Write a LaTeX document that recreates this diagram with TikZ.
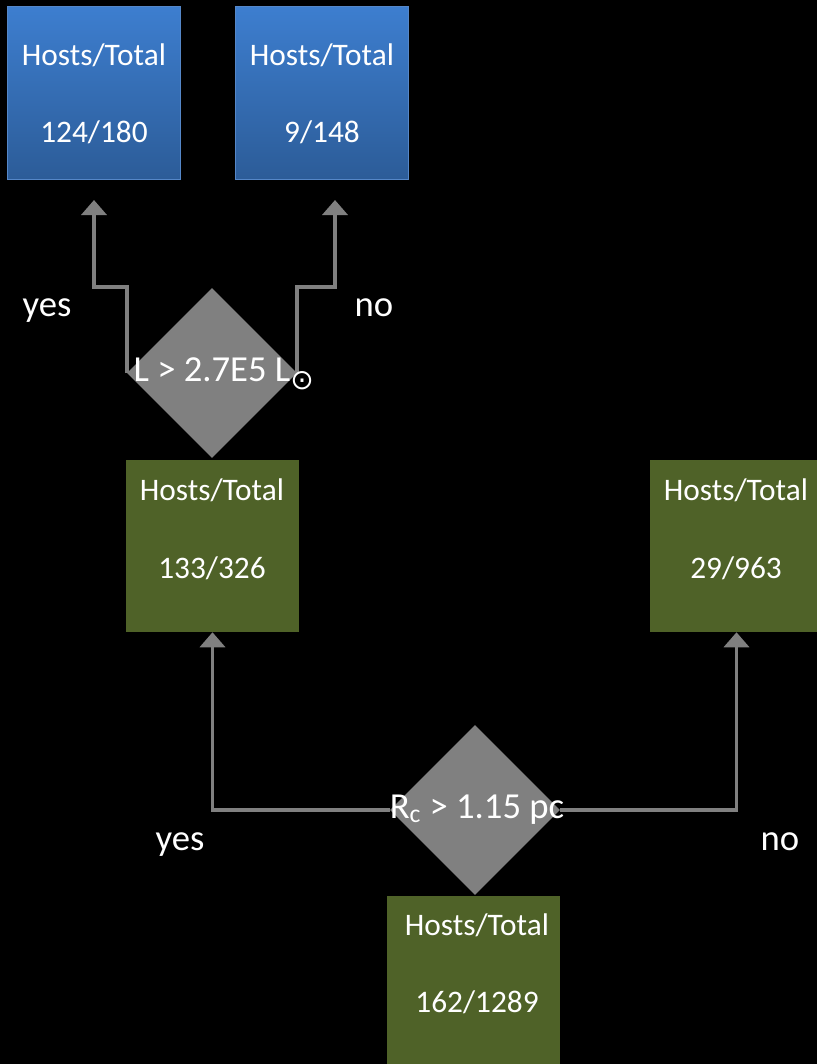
\documentclass[tikz,border=0pt]{standalone}
\usepackage{fontspec}
\setmainfont{Carlito}
\newfontfamily\symfnt{DejaVu Sans}
\usetikzlibrary{shapes.geometric,arrows.meta}
\definecolor{bluetop}{RGB}{61,126,207}
\definecolor{bluebot}{RGB}{44,92,152}
\definecolor{blueedge}{RGB}{85,135,200}
\definecolor{boxgreen}{RGB}{79,98,40}
\definecolor{dgray}{RGB}{128,128,128}
\definecolor{agray}{RGB}{128,128,128}
\begin{document}
\begin{tikzpicture}[x=0.75pt,y=-0.75pt,
  bluebox/.style={rectangle, inner sep=0pt, minimum width=129.5pt, minimum height=129.5pt,
    top color=bluetop, bottom color=bluebot, draw=blueedge, line width=1pt},
  greenbox/.style={rectangle, inner sep=0pt, minimum width=129.75pt, minimum height=129pt,
    fill=boxgreen},
  decision/.style={diamond, aspect=1, fill=dgray, inner sep=0pt,
    minimum width=127.5pt, minimum height=127.5pt},
  boxtext/.style={text=white, font=\fontsize{23.5}{28}\selectfont, anchor=base, inner sep=0pt},
  bigtext/.style={text=white, font=\fontsize{27.5}{33}\selectfont, anchor=base, inner sep=0pt},
  arr/.style={draw=agray, line width=2.8pt, -{Triangle[width=18.75pt,length=11.25pt]}}
]
\useasboundingbox (0,0) rectangle (817,1064);
\fill[black] (0,0) rectangle (817,1064);
\begin{scope}
\clip (0,0) rectangle (817,1064);
% boxes
\node[bluebox] (b1) at (94,93) {};
\node[bluebox] (b2) at (322,93) {};
\node[greenbox] (g1) at (212.5,546) {};
\node[greenbox] (g2) at (736.5,546) {};
\node[greenbox] (g3) at (473.5,982) {};
% bend points and free ends
\coordinate (u1) at (94,287);
\coordinate (u1t) at (94,200);
\coordinate (u2) at (335,287);
\coordinate (u2t) at (335,200);
% diamonds
\node[decision] (d1) at (212,373) {};
\node[decision] (d2) at (475,810) {};
% connectors
\draw[arr] (d1.west) |- (u1) -- (u1t);
\draw[arr] (d1.east) |- (u2) -- (u2t);
\draw[arr] (d2.west) -| (g1.south);
\draw[arr] (d2.east) -| (g2.south);
% texts
\node[boxtext] (b1h) at (94,65) {Hosts/Total};
\node[boxtext] (b1n) at (94,142) {124/180};
\node[boxtext] (b2h) at (322,65) {Hosts/Total};
\node[boxtext] (b2n) at (322,142) {9/148};
\node[boxtext] (g1h) at (212,500) {Hosts/Total};
\node[boxtext] (g1n) at (212,578) {133/326};
\node[boxtext] (g2h) at (736,500) {Hosts/Total};
\node[boxtext] (g2n) at (736,578) {29/963};
\node[boxtext] (g3h) at (477,935) {Hosts/Total};
\node[boxtext] (g3n) at (477,1012) {162/1289};
\node[bigtext] (d1t) at (212,381) {L > 2.7E5 L\rlap{\raisebox{-6.5pt}{\symfnt\fontsize{21}{21}\selectfont ⊙}}};
\node[bigtext] (d2t) at (477,818) {R\textsubscript{c} > 1.15 pc};
\node[bigtext] (y1) at (47,316) {yes};
\node[bigtext] (n1) at (374,316) {no};
\node[bigtext] (y2) at (180,850) {yes};
\node[bigtext] (n2) at (780,850) {no};
\end{scope}
\end{tikzpicture}
\end{document}
